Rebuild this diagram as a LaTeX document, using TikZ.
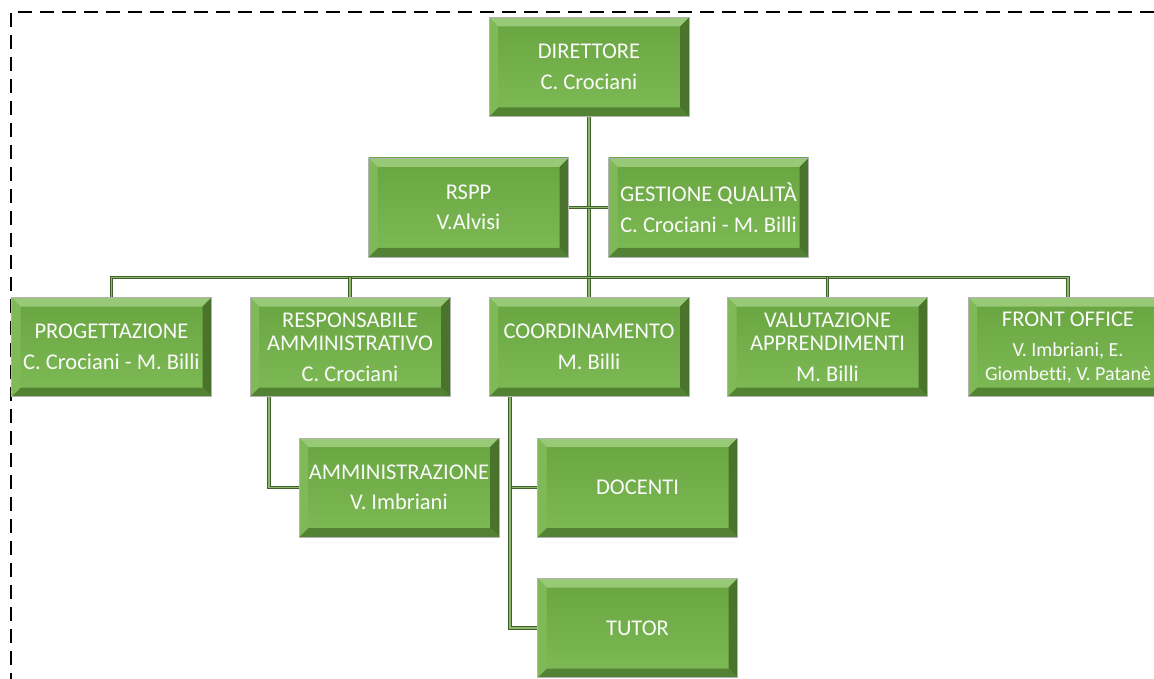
\documentclass[tikz,border=0pt]{standalone}
\usepackage{fontspec}
\setmainfont{Carlito}[Ligatures=NoCommon]

\definecolor{boxtop}{RGB}{104,164,64}
\definecolor{boxbottom}{RGB}{126,187,86}
\definecolor{bevlight}{RGB}{152,201,118}
\definecolor{bevside}{RGB}{128,186,88}
\definecolor{bevdark}{RGB}{74,116,44}
\definecolor{bevbottom}{RGB}{84,130,52}
\definecolor{linedark}{RGB}{66,96,46}
\definecolor{linelight}{RGB}{140,185,110}

\tikzset{
  unit/.style={rectangle, minimum width=200pt, minimum height=99pt, inner sep=0pt,
    top color=boxtop, bottom color=boxbottom, draw=gray!60, line width=0.8pt,
    text=white!96!gray, align=center, font=\fontsize{22.5}{23.5}\selectfont,
    path picture={
      \path (path picture bounding box.north west) coordinate (pnw)
            (path picture bounding box.south east) coordinate (pse);
      \fill[bevlight] (pnw) -- (pse |- pnw) -- ++(-9pt,-9pt) -- ([shift={(9pt,-9pt)}]pnw) -- cycle;
      \fill[bevdark] (pse |- pnw) -- (pse) -- ++(-9pt,9pt) -- ([shift={(-9pt,-9pt)}]pse |- pnw) -- cycle;
      \fill[bevbottom] (pse) -- (pnw |- pse) -- ++(9pt,9pt) -- ([shift={(-9pt,9pt)}]pse) -- cycle;
      \fill[bevside] (pnw |- pse) -- (pnw) -- ++(9pt,-9pt) -- ([shift={(9pt,9pt)}]pnw |- pse) -- cycle;
    }},
  link/.style={draw=linedark, double=linelight, double distance=1.2pt, line width=1pt},
  frame/.style={dash pattern=on 14pt off 8pt, line width=2pt}
}

\begin{document}
\begin{tikzpicture}[x=1pt,y=-1pt]
  \useasboundingbox (0,0) rectangle (1154,679);
  \draw[frame] (1154,12) -- (11,12) -- (11,679);

  % top
  \node[unit] (dir) at (589,67) {DIRETTORE\\[7pt]C. Crociani};
  \node[unit] (rspp) at (468.5,207.5) {RSPP\\[7pt]V.Alvisi};
  \node[unit] (qual) at (708.5,207.5) {GESTIONE QUALITÀ\\[7pt]C. Crociani - M. Billi};

  % second row
  \node[unit] (prog) at (111.5,347) {PROGETTAZIONE\\[7pt]C. Crociani - M. Billi};
  \node[unit] (resp) at (350,347) {RESPONSABILE\\AMMINISTRATIVO\\[7pt]C. Crociani};
  \node[unit] (coord) at (589,347) {COORDINAMENTO\\[7pt]M. Billi};
  \node[unit] (valut) at (827.5,347) {VALUTAZIONE\\APPRENDIMENTI\\[7pt]M. Billi};
  \node[unit] (front) at (1068,347) {FRONT OFFICE\\[7pt]\fontsize{20}{23.5}\selectfont V. Imbriani, E.\\\fontsize{20}{23.5}\selectfont Giombetti, V. Patanè};

  % third row
  \node[unit] (ammin) at (399,487.5) {AMMINISTRAZIONE\\[7pt]V. Imbriani};
  \node[unit] (doc) at (637.5,487.5) {DOCENTI};
  \node[unit] (tutor) at (637.5,628) {TUTOR};

  \draw[link] (dir.south) -- (coord.north);
  \draw[link] (rspp.east) -- (qual.west);
  \draw[link] (prog.north) -- ++(0,-20) -| (front.north);
  \foreach \n in {resp,valut}
    \draw[link] (\n.north) -- ++(0,-20);
  \draw[link] ([xshift=-81pt]resp.south) |- (ammin.west);
  \draw[link] ([xshift=-79pt]coord.south) |- (doc.west);
  \draw[link] ([xshift=-79pt]coord.south) |- (tutor.west);
\end{tikzpicture}
\end{document}
